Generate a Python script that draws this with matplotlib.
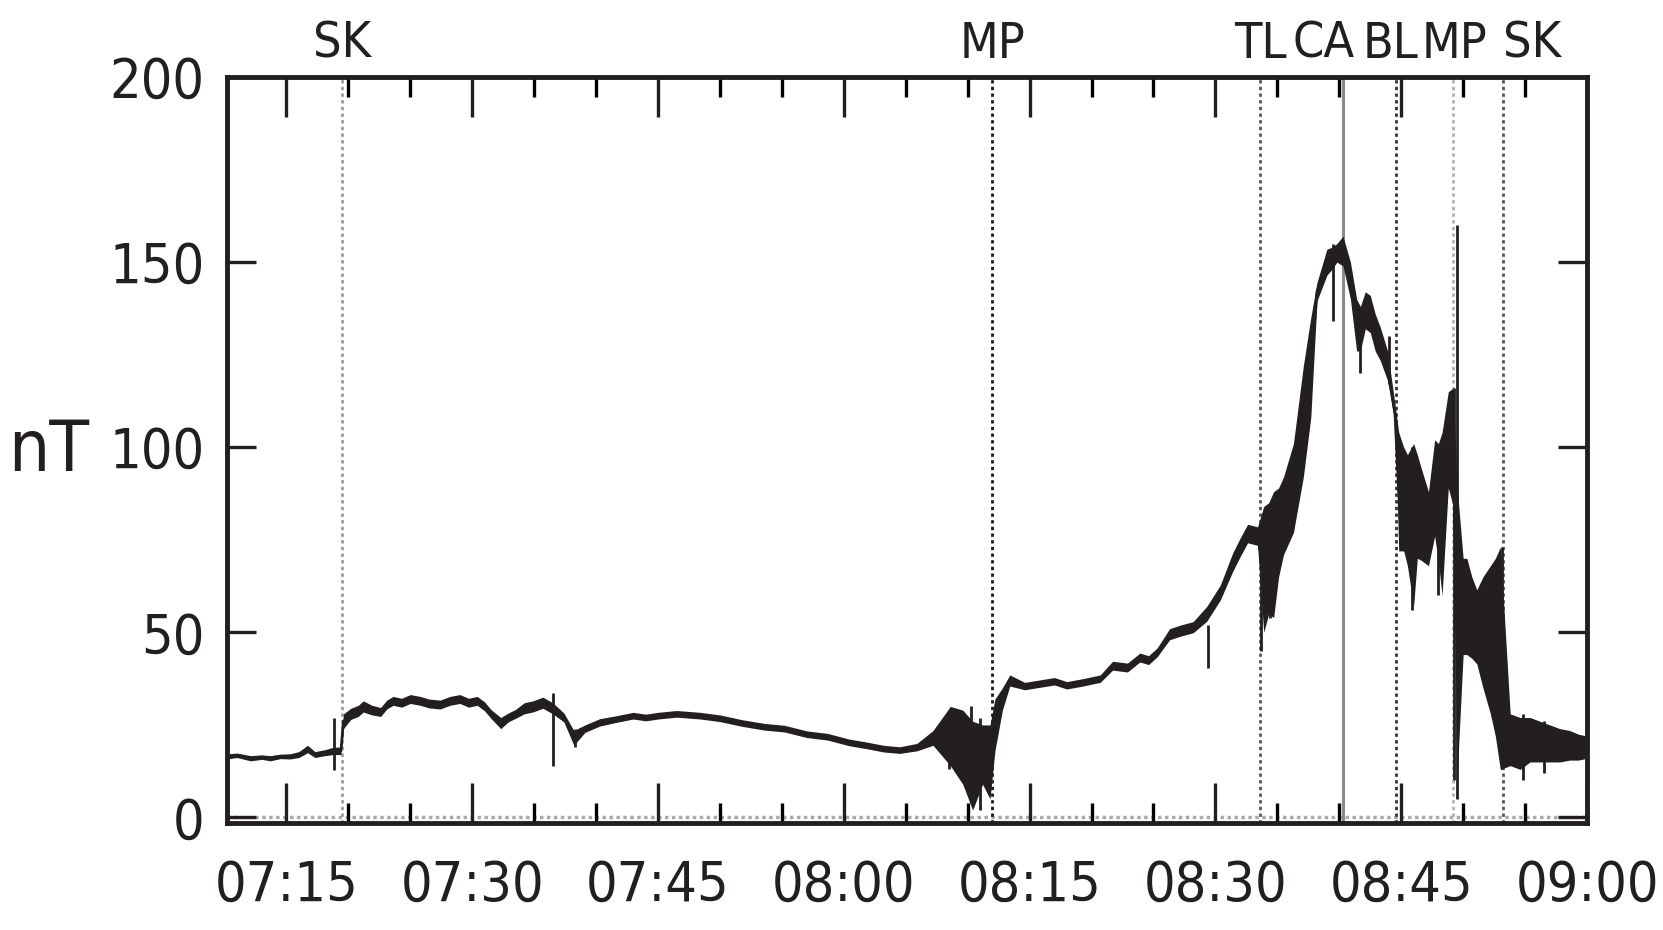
import matplotlib
matplotlib.use("Agg")
import matplotlib.pyplot as plt
from matplotlib import font_manager
from matplotlib.ticker import MultipleLocator, FixedLocator
import numpy as np

# --- data (minutes after 07:00, |B| in nT) ---
times = [10.2, 11.0, 12.1, 13.0, 13.7, 14.5, 15.3, 16.0, 16.7, 17.3, 18.1, 18.8, 19.4,
         19.6, 20.2, 20.8, 21.2, 21.9, 22.6, 23.1, 23.6, 24.3, 25.0, 25.8, 26.5,
         27.4, 28.2, 29.0, 29.7, 30.4, 31.0, 31.5, 32.3, 32.9, 33.5, 34.2, 34.9,
         35.7, 36.5, 37.4, 38.2, 39.1, 40.3, 41.5, 43.0, 44.0, 45.0, 46.5, 48.4,
         50.0, 51.8, 53.6, 55.2, 57.0, 58.7, 60.4, 61.8, 63.2, 64.5, 65.9, 67.2,
         68.6, 69.6, 70.4, 71.2, 71.8,
         72.2, 72.8, 73.4, 74.6, 75.9, 77.0, 78.0, 79.3, 80.7, 81.7, 82.9, 83.9,
         84.6, 85.3, 86.3, 87.2, 88.2, 89.3, 90.4, 91.4, 92.0, 92.6, 93.4,
         93.9, 94.3, 94.7, 95.1, 95.5, 96.3, 97.1, 97.7, 98.2, 98.6, 99.0, 99.4,
         99.8, 100.3, 100.9, 101.4, 101.7, 102.1, 102.5, 102.9, 103.3, 103.9,
         104.5, 104.8, 105.2, 105.5, 106.0, 106.3, 106.6, 107.2, 107.7, 108.0,
         108.3, 108.8, 109.2, 109.5, 110.0, 110.3, 110.7, 111.1, 111.6, 112.2,
         112.6, 113.0, 113.8, 114.6, 115.4, 116.2, 117.0, 117.8, 118.6, 119.3, 120.0]
field = [16.5, 16.8, 16.0, 16.3, 16.0, 16.5, 16.5, 17.0, 18.5, 17.0, 17.5, 18.0, 18.0,
         26.0, 28.0, 28.8, 30.0, 29.0, 28.5, 30.5, 31.5, 31.0, 32.0, 31.5, 30.8,
         30.5, 31.5, 32.0, 31.0, 31.5, 30.0, 28.0, 25.5, 27.0, 28.0, 29.5, 30.0,
         31.0, 29.5, 27.0, 21.5, 24.0, 25.7, 26.5, 27.5, 27.0, 27.5, 28.0, 27.5,
         26.8, 25.5, 24.5, 24.0, 22.5, 21.8, 20.3, 19.5, 18.6, 18.2, 19.0, 21.5,
         22.0, 19.0, 14.0, 17.0, 15.0,
         25.0, 32.0, 37.0, 35.5, 36.2, 36.8, 35.7, 36.5, 37.5, 41.0, 40.5, 43.2,
         42.5, 44.6, 49.5, 50.5, 51.4, 55.0, 60.8, 69.0, 73.0, 76.7, 76.0,
         67.0, 70.0, 71.0, 77.0, 81.5, 89.0, 107.0, 121.5, 142.0, 146.0, 150.0, 151.0,
         152.5, 153.0, 145.0, 133.0, 132.0, 137.0, 136.0, 131.0, 128.0, 122.0,
         109.0, 88.0, 86.0, 83.0, 79.0, 84.0, 82.0, 78.0, 89.0, 85.0,
         82.0, 102.0, 100.0, 50.0, 57.0, 57.0, 54.0, 51.5, 50.0, 48.0,
         46.0, 43.0, 21.0, 20.0, 21.0, 20.5, 20.0, 19.5, 19.5, 19.0, 19.0]
spread = [0.7, 0.6, 0.7, 0.6, 0.7, 0.6, 0.7, 0.8, 1.0, 0.8, 0.8, 1.0, 1.0,
          2.0, 1.5, 1.5, 1.5, 1.3, 1.2, 1.2, 1.2, 1.2, 1.2, 1.2, 1.2,
          1.2, 1.2, 1.2, 1.2, 1.2, 1.2, 1.2, 1.5, 1.2, 1.2, 1.5, 1.5,
          1.5, 1.5, 1.2, 2.0, 1.0, 1.0, 0.9, 0.9, 0.9, 0.9, 0.9, 0.9,
          0.9, 0.9, 0.9, 0.9, 0.9, 0.9, 0.9, 0.9, 0.9, 0.9, 1.0, 2.0,
          8.0, 10.0, 12.0, 8.0, 10.0,
          7.0, 3.0, 1.5, 1.0, 1.0, 1.0, 1.0, 1.0, 1.0, 1.2, 1.2, 1.2,
          1.2, 1.2, 1.5, 1.5, 1.5, 2.0, 2.0, 2.5, 2.5, 2.5, 2.5,
          17.0, 15.0, 17.0, 12.0, 10.5, 12.0, 15.0, 13.5, 2.5, 3.0, 3.5, 3.0,
          2.5, 4.0, 5.0, 7.0, 6.0, 5.0, 5.0, 5.0, 4.5, 4.0,
          2.5, 16.0, 14.0, 15.0, 22.0, 14.0, 12.5, 10.0, 13.0, 16.0,
          22.0, 13.0, 16.0, 40.0, 13.0, 13.0, 11.0, 10.0, 15.0, 20.0,
          24.0, 30.0, 7.0, 7.0, 6.0, 5.5, 5.0, 4.5, 4.0, 3.5, 3.0]

# short excursions (time, low, high)
spike_t = [18.8, 36.5, 38.3, 68.5, 70.3, 71.0, 89.4, 93.7, 94.4, 99.5,
           101.7, 105.9, 108.0, 109.3, 109.5, 113.1, 114.8, 116.5, 104.0]
spike_lo = [12.7, 14, 19, 13, 4, 2, 40.5, 45, 54, 134,
            120, 56, 60, 10, 5, 13, 10, 12, 117]
spike_hi = [27, 33.5, 24, 29, 30, 27, 52, 80, 82, 155,
            138, 100, 100, 116, 160, 73, 28, 26, 130]

# boundary crossings
bound_t = [19.5, 72.0, 93.6, 100.3, 104.6, 109.2, 113.2]
bound_color = ['#9a9a9a', '#1a1a1a', '#555555', '#8a8a8a', '#333333', '#b0b0b0', '#555555']
bound_style = [':', ':', ':', '-', ':', ':', ':']
label_t = [19.5, 72.0, 93.6, 98.7, 104.1, 109.3, 115.6]
label_txt = ['SK', 'MP', 'TL', 'CA', 'BL', 'MP', 'SK']

xtick_pos = [15, 30, 45, 60, 75, 90, 105, 120]
xtick_lab = ['07:15', '07:30', '07:45', '08:00', '08:15', '08:30', '08:45', '09:00']


def pick_font():
    names = {f.name for f in font_manager.fontManager.ttflist}
    for n in ['Liberation Sans Narrow', 'Arial Narrow', 'Nimbus Sans Narrow']:
        if n in names:
            return n, 'normal'
    return 'DejaVu Sans', 'condensed'


font, stretch = pick_font()
plt.rcParams['font.family'] = font
plt.rcParams['font.stretch'] = stretch

fig = plt.figure(figsize=(16.63, 9.30), dpi=100)
ax = fig.add_axes([0.1365, 0.115, 0.9543 - 0.1365, 0.9172 - 0.115])

t = np.array(times)
b = np.array(field)
s = np.array(spread)

# zero reference line
ax.axhline(0, color='#aaaaaa', lw=2.5, ls=(0, (1, 1)), zorder=1)

for bt, c, st in zip(bound_t, bound_color, bound_style):
    lw = 2.2 if st == '-' else 2.0
    ax.axvline(bt, color=c, lw=lw, ls=st if st == '-' else (0, (1.2, 1.2)), zorder=2)

ax.fill_between(t, b - s, b + s, color='#231f20', lw=0, zorder=3)
ax.plot(t, b, color='#231f20', lw=2.0, zorder=4)
ax.vlines(spike_t, spike_lo, spike_hi, color='#231f20', lw=2.0, zorder=4)

for lt, txt in zip(label_t, label_txt):
    ax.text(lt, 1.026, txt, transform=ax.get_xaxis_transform(),
            ha='center', va='baseline', fontsize=36, color='#231f20')

ax.set_xlim(10.2, 120)
ax.set_ylim(-1.5, 200)

ax.xaxis.set_major_locator(FixedLocator(xtick_pos))
ax.set_xticklabels(xtick_lab)
ax.xaxis.set_minor_locator(MultipleLocator(5))
ax.set_yticks([0, 50, 100, 150, 200])

ax.tick_params(axis='x', which='major', direction='in', length=29, width=2.4,
               top=True, bottom=True, labelsize=40, pad=26, colors='#231f20')
ax.tick_params(axis='x', which='minor', direction='in', length=14.5, width=2.4,
               top=True, bottom=True)
ax.tick_params(axis='y', which='major', direction='in', length=21, width=2.4,
               left=True, right=True, labelsize=40, pad=16, colors='#231f20')
for sp in ax.spines.values():
    sp.set_linewidth(3.5)
    sp.set_color('#231f20')

fig.text(0.029, 0.514, 'nT', ha='center', va='center', fontsize=52, color='#231f20')

fig.savefig('out.png', dpi=100)
